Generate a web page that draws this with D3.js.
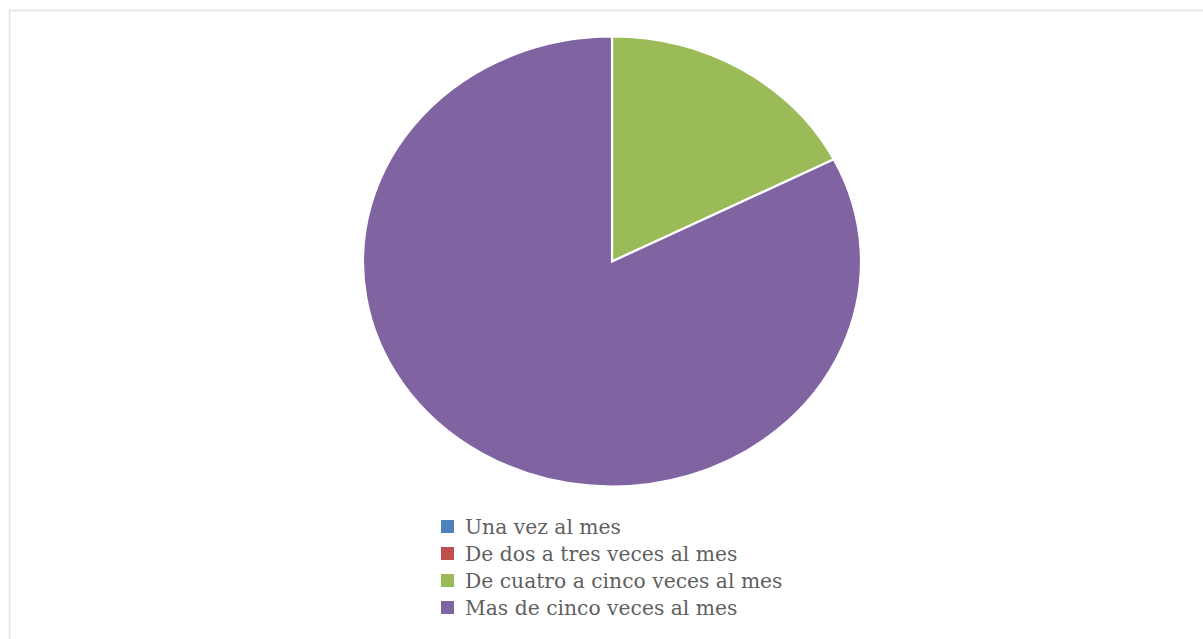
<!DOCTYPE html>
<html>
<head>
<meta charset="utf-8">
<script src="https://cdn.jsdelivr.net/npm/d3@7"></script>
<style>
  html, body { margin: 0; padding: 0; background: #ffffff; }
  svg { display: block; }
</style>
</head>
<body>
<svg id="chart" width="1203" height="639"></svg>
<script>
// Frequency categories and their shares (percent)
const categories = [
  "Una vez al mes",
  "De dos a tres veces al mes",
  "De cuatro a cinco veces al mes",
  "Mas de cinco veces al mes"
];
const shares = [0, 0, 17.5, 82.5];
const colors = ["#4f81bd", "#c0504d", "#9bbb59", "#8064a2"];

const data = categories.map((c, i) => ({ label: c, value: shares[i], color: colors[i] }));

const svg = d3.select("#chart");

// chart area frame
svg.append("rect")
  .attr("x", 9.5).attr("y", 10.5)
  .attr("width", 1260).attr("height", 700)
  .attr("fill", "#ffffff")
  .attr("stroke", "#e3e3e3")
  .attr("stroke-width", 1.5);

// Pie (slightly flattened ellipse)
const cx = 612, cy = 261.5, rx = 249, ry = 225;
const pie = d3.pie().value(d => d.value).sort(null);
const arc = d3.arc().innerRadius(0).outerRadius(rx);

const pieG = svg.append("g")
  .attr("transform", `translate(${cx},${cy}) scale(1,${ry / rx})`);

pieG.selectAll("path")
  .data(pie(data).filter(d => d.data.value > 0))
  .join("path")
  .attr("d", arc)
  .attr("fill", d => d.data.color)
  .attr("stroke", "#ffffff")
  .attr("stroke-width", 2.2)
  .attr("vector-effect", "non-scaling-stroke");

// Legend
const legendX = 441, legendY = 520, rowH = 27, sw = 13;
const legend = svg.append("g").attr("transform", `translate(${legendX},${legendY})`);
const rows = legend.selectAll("g")
  .data(data)
  .join("g")
  .attr("transform", (d, i) => `translate(0,${i * rowH})`);

rows.append("rect")
  .attr("width", sw).attr("height", sw)
  .attr("fill", d => d.color);

rows.append("text")
  .attr("x", 24)
  .attr("y", 14)
  .attr("font-family", "'DejaVu Serif', serif")
  .attr("font-size", 20.3)
  .attr("fill", "#5f5f5f")
  .text(d => d.label);
</script>
</body>
</html>
